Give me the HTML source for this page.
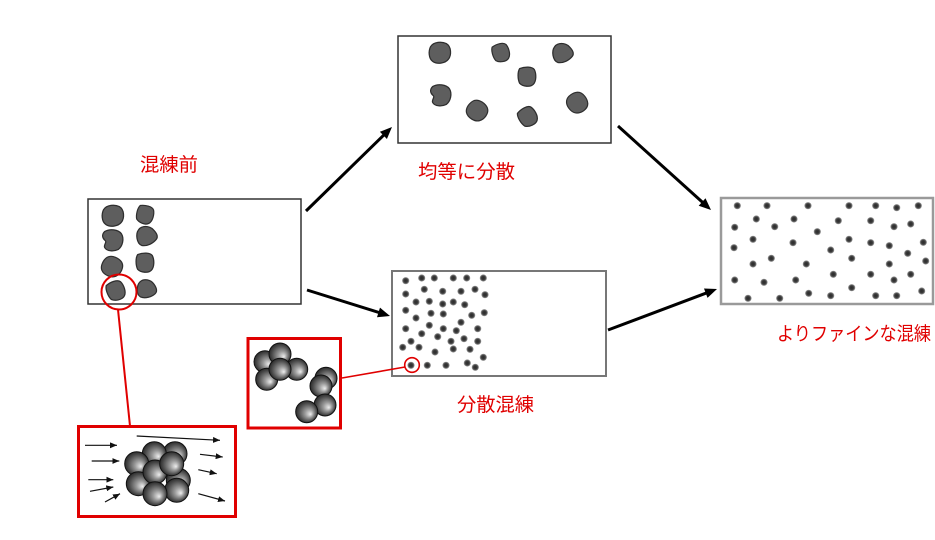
<!DOCTYPE html>
<html><head><meta charset="utf-8"><style>
html,body{margin:0;padding:0;background:#fff;}
svg{display:block;}
text{font-family:"Liberation Sans","Noto Sans CJK JP",sans-serif;fill:#e00000;font-size:19px;}
</style></head><body>
<svg width="935" height="540" viewBox="0 0 935 540" xmlns="http://www.w3.org/2000/svg">
<defs>
<radialGradient id="sph" cx="0.5" cy="0.5" r="0.55" fx="0.68" fy="0.62">
<stop offset="0" stop-color="#eeeeee"/>
<stop offset="0.35" stop-color="#9a9a9a"/>
<stop offset="0.75" stop-color="#4a4a4a"/>
<stop offset="1" stop-color="#1e1e1e"/>
</radialGradient>
<radialGradient id="dot" cx="0.5" cy="0.5" r="0.5">
<stop offset="0" stop-color="#2a2a2a"/>
<stop offset="0.55" stop-color="#3c3c3c"/>
<stop offset="0.8" stop-color="#707070"/>
<stop offset="1" stop-color="#b0b0b0"/>
</radialGradient>
<path id="bA" d="M-9,-6 C-6,-11 2,-11 6,-9 C11,-6 11,2 8,6 C5,10 -3,11 -7,8 C-11,5 -11,-2 -9,-6 Z"/>
<path id="bB" d="M-8,-8 C-3,-11 5,-10 8,-6 C11,-1 9,6 5,9 C1,11 -6,11 -8,7 C-9,4 -5,2 -8,0 C-11,-3 -10,-6 -8,-8 Z"/>
<path id="bC" d="M-7,-8 C-2,-10 5,-10 7,-7 C9,-3 9,4 6,7 C3,10 -4,9 -7,6 C-9,2 -9,-5 -7,-8 Z"/>
<path id="bD" d="M-8,-6 C-5,-10 2,-10 6,-6 C9,-3 11,0 9,3 C6,7 0,10 -5,9 C-10,7 -11,-2 -8,-6 Z"/>
<marker id="sm" markerWidth="7" markerHeight="6" refX="7" refY="3" orient="auto" markerUnits="userSpaceOnUse"><path d="M0,0 L7,3 L0,6 Z" fill="#111"/></marker>
</defs>

<!-- Boxes -->
<rect x="88" y="199" width="213" height="105" fill="#fff" stroke="#333" stroke-width="1.5"/>
<rect x="398" y="36" width="213" height="107" fill="#fff" stroke="#333" stroke-width="1.5"/>
<rect x="392" y="271" width="214" height="105" fill="#fff" stroke="#777" stroke-width="2"/>
<rect x="721" y="198" width="212" height="106" fill="#fff" stroke="#9a9a9a" stroke-width="2.5"/>

<!-- Blobs left -->
<g fill="#5e5e5e" stroke="#2e2e2e" stroke-width="1.2">
<use href="#bA" transform="translate(113,216) scale(1.05)"/>
<use href="#bC" transform="translate(145,215) rotate(15) scale(1.0)"/>
<use href="#bB" transform="translate(113,240) scale(1.05)"/>
<use href="#bD" transform="translate(147,236) scale(1.05)"/>
<use href="#bA" transform="translate(112,267) rotate(30) scale(1.0)"/>
<use href="#bC" transform="translate(145,263) scale(1.05)"/>
<use href="#bC" transform="translate(116,291) rotate(-20) scale(1.05)"/>
<use href="#bD" transform="translate(147,289) rotate(10) scale(1.0)"/>
<!-- Blobs top -->
<use href="#bA" transform="translate(440,53) scale(1.05)"/>
<use href="#bC" transform="translate(501,53) rotate(-15) scale(1.0)"/>
<use href="#bD" transform="translate(563,53) scale(1.05)"/>
<use href="#bC" transform="translate(527,77) scale(1.05)"/>
<use href="#bB" transform="translate(441,95) scale(1.05)"/>
<use href="#bA" transform="translate(477,111) rotate(40) scale(1.0)"/>
<use href="#bC" transform="translate(528,117) rotate(-30) scale(1.05)"/>
<use href="#bA" transform="translate(577,103) rotate(60) scale(1.0)"/>
</g>

<!-- Middle box dots -->
<g fill="url(#dot)">
<circle cx="405.7" cy="280.7" r="3.6"/><circle cx="421.7" cy="278" r="3.6"/><circle cx="434.3" cy="278" r="3.6"/>
<circle cx="453.3" cy="278" r="3.6"/><circle cx="466.7" cy="278" r="3.6"/><circle cx="483.3" cy="278" r="3.6"/>
<circle cx="405.7" cy="294" r="3.6"/><circle cx="424.3" cy="289.3" r="3.6"/><circle cx="442.7" cy="291.3" r="3.6"/>
<circle cx="461" cy="291.3" r="3.6"/><circle cx="475" cy="289.3" r="3.6"/><circle cx="485" cy="294.7" r="3.6"/>
<circle cx="416" cy="302" r="3.6"/><circle cx="429.3" cy="301.3" r="3.6"/><circle cx="442.7" cy="304" r="3.6"/>
<circle cx="453.3" cy="302" r="3.6"/><circle cx="464.7" cy="304.7" r="3.6"/><circle cx="405.7" cy="310.3" r="3.6"/>
<circle cx="431" cy="313.3" r="3.6"/><circle cx="443.3" cy="314" r="3.6"/><circle cx="471.7" cy="315.3" r="3.6"/>
<circle cx="484.3" cy="312.7" r="3.6"/><circle cx="416" cy="318" r="3.6"/><circle cx="461" cy="322.3" r="3.6"/>
<circle cx="405.7" cy="328.7" r="3.6"/><circle cx="429.3" cy="325.3" r="3.6"/><circle cx="443.3" cy="328.7" r="3.6"/>
<circle cx="456.3" cy="330.7" r="3.6"/><circle cx="477.7" cy="328.7" r="3.6"/><circle cx="421.7" cy="333.7" r="3.6"/>
<circle cx="437.7" cy="336.7" r="3.6"/><circle cx="451" cy="341.3" r="3.6"/><circle cx="464" cy="338.7" r="3.6"/>
<circle cx="477.7" cy="341.3" r="3.6"/><circle cx="411" cy="341.3" r="3.6"/><circle cx="402.7" cy="347.3" r="3.6"/>
<circle cx="419" cy="347.3" r="3.6"/><circle cx="453.3" cy="349" r="3.6"/><circle cx="470" cy="349.3" r="3.6"/>
<circle cx="435" cy="352" r="3.6"/><circle cx="483.3" cy="357.3" r="3.6"/><circle cx="411" cy="365.3" r="3.6"/>
<circle cx="427.3" cy="365.3" r="3.6"/><circle cx="446" cy="365.3" r="3.6"/><circle cx="467.3" cy="363" r="3.6"/>
<circle cx="475.3" cy="367.3" r="3.6"/>
</g>

<!-- Right box dots -->
<g fill="url(#dot)">
<circle cx="737.3" cy="205.7" r="3.6"/><circle cx="767" cy="205.7" r="3.6"/><circle cx="808" cy="205.7" r="3.6"/>
<circle cx="756.3" cy="219" r="3.6"/><circle cx="794" cy="219" r="3.6"/><circle cx="734.7" cy="227.3" r="3.6"/>
<circle cx="774.7" cy="226.7" r="3.6"/><circle cx="817.3" cy="231.7" r="3.6"/><circle cx="753" cy="239.3" r="3.6"/>
<circle cx="793" cy="242.7" r="3.6"/><circle cx="734" cy="247.7" r="3.6"/><circle cx="771.3" cy="258.3" r="3.6"/>
<circle cx="753" cy="264" r="3.6"/><circle cx="806.3" cy="264" r="3.6"/><circle cx="734.7" cy="280" r="3.6"/>
<circle cx="764" cy="282.3" r="3.6"/><circle cx="795.7" cy="280" r="3.6"/><circle cx="808.7" cy="293.3" r="3.6"/>
<circle cx="748" cy="298.3" r="3.6"/><circle cx="779.7" cy="298.3" r="3.6"/>
<circle cx="849" cy="205.7" r="3.6"/><circle cx="875.7" cy="205.7" r="3.6"/><circle cx="896.7" cy="207.7" r="3.6"/>
<circle cx="918.3" cy="205.7" r="3.6"/><circle cx="838.3" cy="220.7" r="3.6"/><circle cx="870.7" cy="220.7" r="3.6"/>
<circle cx="894" cy="226.7" r="3.6"/><circle cx="910.7" cy="224" r="3.6"/><circle cx="849" cy="239.3" r="3.6"/>
<circle cx="870.7" cy="242.7" r="3.6"/><circle cx="889.3" cy="245.7" r="3.6"/><circle cx="923.3" cy="242.3" r="3.6"/>
<circle cx="830.7" cy="250" r="3.6"/><circle cx="851.7" cy="258.3" r="3.6"/><circle cx="907.7" cy="253.3" r="3.6"/>
<circle cx="889.3" cy="264" r="3.6"/><circle cx="925.7" cy="261" r="3.6"/><circle cx="833.3" cy="274.3" r="3.6"/>
<circle cx="870.7" cy="274.3" r="3.6"/><circle cx="894" cy="280" r="3.6"/><circle cx="910.7" cy="274.3" r="3.6"/>
<circle cx="851.7" cy="287.7" r="3.6"/><circle cx="830.7" cy="295.7" r="3.6"/><circle cx="875.7" cy="295.7" r="3.6"/>
<circle cx="896.7" cy="295.7" r="3.6"/><circle cx="921.7" cy="291" r="3.6"/>
</g>

<!-- Black arrows -->
<g stroke="#000" stroke-width="3" fill="none">
<line x1="306" y1="211" x2="386.3" y2="132.6"/>
<line x1="307" y1="290" x2="382.4" y2="313.6"/>
<line x1="618" y1="126" x2="705.1" y2="204.6"/>
<line x1="608" y1="330" x2="709.5" y2="291.8"/>
</g>
<g fill="#000">
<polygon points="392,127 386.9,139.0 379.9,131.8"/>
<polygon points="390,316 377.0,317.2 380.0,307.6"/>
<polygon points="711,210 698.7,205.7 705.5,198.3"/>
<polygon points="717,289 707.5,297.9 704.0,288.5"/>
</g>

<!-- Red callouts -->
<circle cx="119" cy="292" r="17.5" fill="none" stroke="#e00000" stroke-width="2"/>
<line x1="118" y1="309.5" x2="130" y2="426" stroke="#e00000" stroke-width="2"/>
<circle cx="412" cy="365" r="7.3" fill="none" stroke="#e00000" stroke-width="1.6"/>
<line x1="342" y1="378" x2="405" y2="367" stroke="#e00000" stroke-width="1.6"/>

<rect x="78.5" y="426.5" width="157" height="90" fill="#fff" stroke="#e00000" stroke-width="3"/>
<rect x="248" y="338.5" width="92.5" height="89.5" fill="#fff" stroke="#e00000" stroke-width="3"/>

<!-- Spheres cluster (top-mid red box) -->
<g fill="url(#sph)" stroke="#111" stroke-width="1">
<circle cx="265" cy="361.7" r="11"/>
<circle cx="280" cy="354" r="11"/>
<circle cx="296.7" cy="369.3" r="11"/>
<circle cx="266.7" cy="379.3" r="11"/>
<circle cx="280" cy="369.3" r="11"/>
<circle cx="326" cy="378.3" r="11"/>
<circle cx="321" cy="386" r="11"/>
<circle cx="325" cy="405" r="11"/>
<circle cx="306.7" cy="411.7" r="11"/>
</g>

<!-- Spheres cluster (bottom red box) -->
<g fill="url(#sph)" stroke="#111" stroke-width="1">
<circle cx="175" cy="453.7" r="12"/>
<circle cx="154.3" cy="453.7" r="12"/>
<circle cx="136.7" cy="463.7" r="12"/>
<circle cx="178.3" cy="480.3" r="12"/>
<circle cx="176.7" cy="490.3" r="12"/>
<circle cx="138.3" cy="483.7" r="12"/>
<circle cx="155" cy="472" r="12"/>
<circle cx="155" cy="493.7" r="12"/>
<circle cx="171.7" cy="463.7" r="12"/>
</g>

<!-- Small flow arrows -->
<g stroke="#111" stroke-width="1.2" marker-end="url(#sm)">
<line x1="85" y1="445.3" x2="117" y2="445.3"/>
<line x1="91.7" y1="461" x2="119.3" y2="461"/>
<line x1="136.7" y1="436" x2="220" y2="440.3"/>
<line x1="200" y1="454.3" x2="222.7" y2="457"/>
<line x1="198.3" y1="469.7" x2="216.7" y2="473.7"/>
<line x1="88.3" y1="479.7" x2="113.3" y2="479.7"/>
<line x1="90" y1="491.3" x2="113.3" y2="487"/>
<line x1="105" y1="502" x2="120" y2="493.7"/>
<line x1="198.3" y1="493.7" x2="225" y2="501"/>
</g>

<!-- Labels -->
<text x="140" y="171" textLength="58" lengthAdjust="spacingAndGlyphs">混練前</text>
<text x="418" y="178" textLength="97" lengthAdjust="spacingAndGlyphs">均等に分散</text>
<text x="457" y="411" textLength="77" lengthAdjust="spacingAndGlyphs">分散混練</text>
<text x="777" y="340" textLength="154" lengthAdjust="spacingAndGlyphs">よりファインな混練</text>
</svg>
</body></html>
